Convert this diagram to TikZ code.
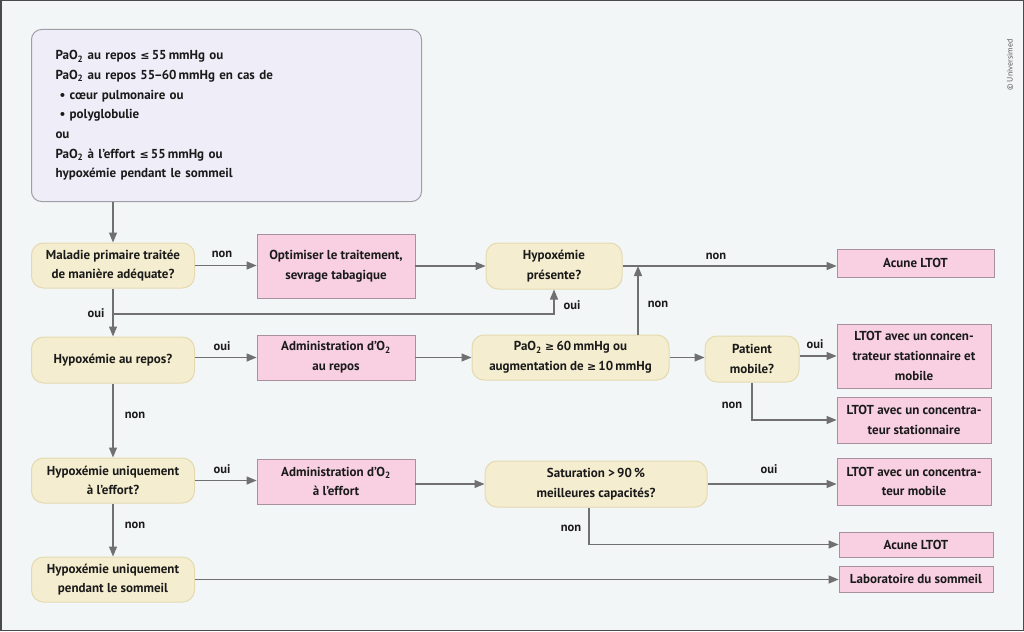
\documentclass[tikz,border=0pt]{standalone}
\usepackage{fontspec}
\setmainfont{PT Sans}
\newfontfamily\symb{DejaVu Sans}
\usetikzlibrary{arrows.meta}
\definecolor{fond}{HTML}{F3F6F6}
\definecolor{cadre}{HTML}{4A4A4A}
\definecolor{jaune}{HTML}{F4EDCF}
\definecolor{jauneb}{HTML}{E3DAB0}
\definecolor{rose}{HTML}{F8D0E2}
\definecolor{roseb}{HTML}{A8909C}
\definecolor{lilas}{HTML}{EFEEF8}
\definecolor{lilasb}{HTML}{9E9EA6}
\definecolor{trait}{HTML}{707070}
\definecolor{texte}{HTML}{1A1A1A}
\newcommand{\infeg}{{\symb\fontsize{11}{11}\selectfont ≤}}
\newcommand{\supeg}{{\symb\fontsize{11}{11}\selectfont ≥}}

\begin{document}
\begin{tikzpicture}[x=1pt,y=-1pt]
\tikzset{Txt/.style = {text=texte, font=\bfseries\fontsize{13}{19.7}\selectfont, align=center, inner sep=0pt},
Depart/.style = {Txt, draw=lilasb, fill=lilas, line width=1pt, rounded corners=10pt, align=left, text width=342pt, inner xsep=24pt, minimum height=172pt, anchor=north west},
Question/.style = {Txt, draw=jauneb, fill=jaune, line width=1pt, rounded corners=12pt},
Action/.style = {Txt, draw=roseb, fill=rose, line width=0.8pt},
Fleche/.style = {draw=trait, line width=1.2pt, -{Triangle[length=10pt,width=8pt]}},
Lab/.style = {text=texte, font=\bfseries\fontsize{12.5}{14}\selectfont, inner sep=0pt}}
\useasboundingbox[fill=fond] (0,0) rectangle (1024,631);
\draw[cadre, line width=1.5pt] (0.75,0.75) rectangle (1023.25,630.25);

\node[Depart] (start) at (31,29) {PaO\textsubscript{2} au repos \infeg\,55\,mmHg ou\\ PaO\textsubscript{2} au repos 55\kern-1pt–\kern-1pt60\,mmHg en cas de\\ \hspace*{4pt}• cœur pulmonaire ou\\ \hspace*{4pt}• polyglobulie\\ ou\\ PaO\textsubscript{2} à l’effort \infeg\,55\,mmHg ou\\ hypoxémie pendant le sommeil};

\node[Question, minimum width=163pt, minimum height=45pt] (mal) at (113,265.5) {Maladie primaire traitée\\ de manière adéquate?}; \node[Question, minimum width=163pt, minimum height=46pt] (rep) at (113,360) {Hypoxémie au repos?};
\node[Question, minimum width=163pt, minimum height=45pt] (eff) at (113,480.5) {Hypoxémie uniquement\\ à l’effort?}; \node[Question, minimum width=163pt, minimum height=45pt] (som) at (113,579.5) {Hypoxémie uniquement\\ pendant le sommeil};
\node[Action, minimum width=158pt, minimum height=64pt] (opt) at (336,266) {Optimiser le traitement,\\ sevrage tabagique}; \node[Action, minimum width=158pt, minimum height=45pt] (adr) at (336,357.5) {Administration d’O\textsubscript{2}\\ au repos};
\node[Action, minimum width=158pt, minimum height=45pt] (ade) at (336,481.5) {Administration d’O\textsubscript{2}\\ à l’effort};
\node[Question, minimum width=136pt, minimum height=46pt] (hyp) at (554,266) {Hypoxémie\\ présente?}; \node[Question, minimum width=197pt, minimum height=45pt] (pao) at (570.5,357.5) {PaO\textsubscript{2} \supeg\,60\,mmHg ou\\ augmentation de \supeg\,10\,mmHg};
\node[Question, minimum width=94pt, minimum height=46pt] (mob) at (752,359) {Patient\\ mobile?}; \node[Question, minimum width=222pt, minimum height=46pt] (sat) at (596,484) {Saturation >\,90\,\%\\ meilleures capacités?};
\node[Action, minimum width=157pt, minimum height=28pt] (aucun1) at (915.5,263) {Acune LTOT}; \node[Action, minimum width=154pt, minimum height=64pt] (ltsm) at (914,356) {LTOT avec un concen-\\ trateur stationnaire et\\ mobile};
\node[Action, minimum width=154pt, minimum height=46pt] (ltst) at (914,420) {LTOT avec un concentra-\\ teur stationnaire}; \node[Action, minimum width=154pt, minimum height=47pt] (ltmo) at (914,481.5) {LTOT avec un concentra-\\ teur mobile};
\node[Action, minimum width=154pt, minimum height=25pt] (aucun2) at (916,544.5) {Acune LTOT}; \node[Action, minimum width=154pt, minimum height=26pt] (labo) at (916,579) {Laboratoire du sommeil};

\coordinate (br) at (113,314); \coordinate (jn) at (638,266); \coordinate (sn) at (589,546);
\draw[Fleche] (start.south -| mal.north) -- (mal.north); \draw[Fleche] (mal.east) -- (mal.east -| opt.west); \draw[Fleche] (opt.east) -- (opt.east -| hyp.west); \draw[Fleche] (hyp.east) -- (hyp.east -| aucun1.west);
\draw[Fleche] (mal.south) -- (rep.north); \draw[Fleche] (br) -| (hyp.south); \draw[Fleche] (rep.east |- adr.west) -- (adr.west); \draw[Fleche] (adr.east) -- (adr.east -| pao.west);
\draw[Fleche] (pao.north -| jn) -- (jn); \draw[Fleche] (pao.east) -- (pao.east -| mob.west); \draw[Fleche] (mob.east |- ltsm.west) -- (ltsm.west); \draw[Fleche] (mob.south) |- (ltst.west);
\draw[Fleche] (rep.south) -- (eff.north); \draw[Fleche] (eff.east) -- (eff.east -| ade.west); \draw[Fleche] (ade.east |- sat.west) -- (sat.west); \draw[Fleche] (sat.east) -- (sat.east -| ltmo.west);
\draw[Fleche] (sat.south -| sn) |- (aucun2.west); \draw[Fleche] (eff.south) -- (som.north); \draw[Fleche] (som.east) -- (som.east -| labo.west);

\node[Lab] (l1) at (222,254) {non}; \node[Lab] (l2) at (96,313) {oui}; \node[Lab] (l3) at (572,305) {oui}; \node[Lab] (l4) at (716,256) {non};
\node[Lab] (l5) at (222,346) {oui}; \node[Lab] (l6) at (658,304) {non}; \node[Lab] (l7) at (815,344) {oui}; \node[Lab] (l8) at (732,405) {non};
\node[Lab] (l9) at (135,415) {non}; \node[Lab] (l10) at (222,469) {oui}; \node[Lab] (l11) at (769,469) {oui}; \node[Lab] (l12) at (571,528) {non}; \node[Lab] (l13) at (135,525) {non};
\node[rotate=90, text=black!65, font=\fontsize{8}{9}\selectfont, inner sep=0pt] (copy) at (1010,65) {© Universimed};
\end{tikzpicture}
\end{document}
